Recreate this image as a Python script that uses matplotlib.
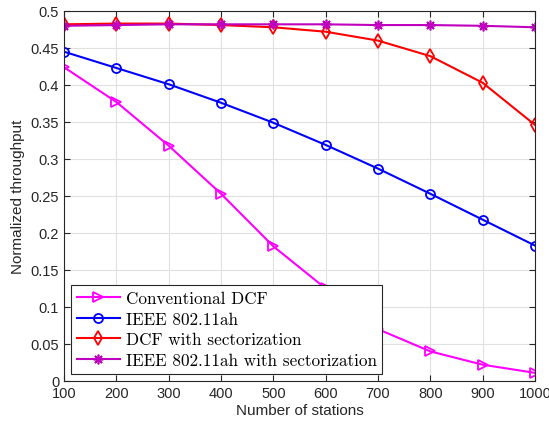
import matplotlib
matplotlib.use("Agg")
import matplotlib.pyplot as plt

stations = [100, 200, 300, 400, 500, 600, 700, 800, 900, 1000]
conv_dcf = [0.424, 0.377, 0.318, 0.253, 0.182, 0.125, 0.070, 0.040, 0.022, 0.011]
ieee_ah = [0.445, 0.423, 0.401, 0.376, 0.349, 0.319, 0.287, 0.253, 0.218, 0.183]
dcf_sect = [0.482, 0.483, 0.483, 0.481, 0.478, 0.472, 0.460, 0.439, 0.403, 0.346]
ieee_sect = [0.480, 0.481, 0.482, 0.482, 0.482, 0.482, 0.481, 0.481, 0.480, 0.478]
labels = ["Conventional DCF", "IEEE 802.11ah", "DCF with sectorization",
          "IEEE 802.11ah with sectorization"]
yticks = [0, 0.05, 0.1, 0.15, 0.2, 0.25, 0.3, 0.35, 0.4, 0.45, 0.5]
ytick_labels = ["0", "0.05", "0.1", "0.15", "0.2", "0.25", "0.3", "0.35", "0.4", "0.45", "0.5"]

plt.rcParams['font.family'] = ['Liberation Sans', 'DejaVu Sans']

fig = plt.figure(figsize=(5.49, 4.27), dpi=100)
ax = fig.add_axes([0.1166, 0.1054, 0.8579, 0.8665])

lw = 1.5
ax.plot(stations, conv_dcf, color='#FF00FF', marker='>', ms=6.5, mfc='none', mew=1.3, lw=lw, label=labels[0])
ax.plot(stations, ieee_ah, color='#0000FF', marker='o', ms=6.5, mfc='none', mew=1.3, lw=lw, label=labels[1])
ax.plot(stations, dcf_sect, color='#FF0000', marker='d', ms=7.5, mfc='none', mew=1.3, lw=lw, label=labels[2])
ax.plot(stations, ieee_sect, color='#BF00BF', marker=(8, 2, 0), ms=7, mfc='none', mew=1.2, lw=lw, label=labels[3])

ax.set_xlim(100, 1000)
ax.set_ylim(0, 0.5)
ax.set_xticks(stations)
ax.set_yticks(yticks)
ax.set_yticklabels(ytick_labels)
ax.grid(True, color='#e0e0e0', linewidth=0.8)
ax.set_axisbelow(True)
ax.tick_params(direction='in', length=4, labelsize=10.5, colors='#262626', top=True, right=True)
for s in ax.spines.values():
    s.set_color('#262626')
    s.set_linewidth(0.8)
ax.set_xlabel("Number of stations", fontsize=11, color='#262626', labelpad=2)
ax.set_ylabel("Normalized throughput", fontsize=11, color='#262626', labelpad=4)

leg = ax.legend(loc='lower left', prop={'family': 'cmr10', 'size': 12.3}, fancybox=False,
                edgecolor='#262626', framealpha=1, borderaxespad=0.4, handlelength=2.5,
                labelspacing=0.32, borderpad=0.35, handletextpad=0.35)
leg.get_frame().set_linewidth(0.8)

fig.savefig("out.png", dpi=100)
